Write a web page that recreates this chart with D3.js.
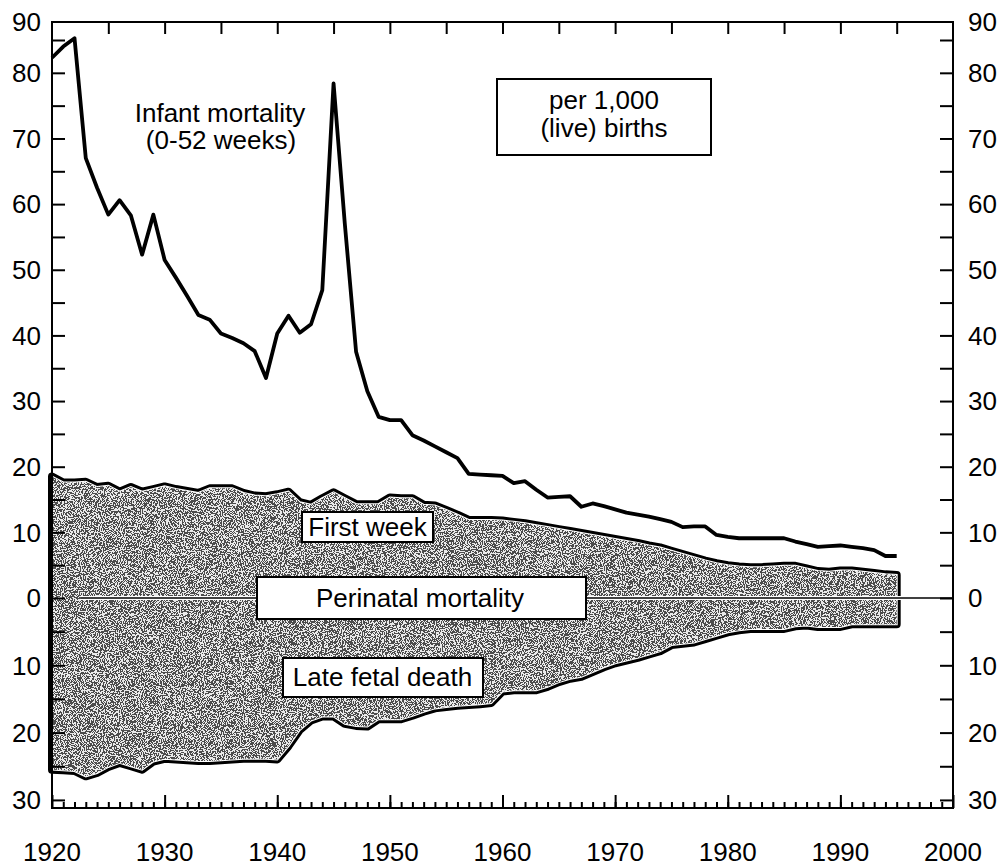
<!DOCTYPE html>
<meta charset="utf-8">
<script src="https://d3js.org/d3.v7.min.js"></script>
<style>
  body { margin: 0; background: #fff; }
  text { font-family: "Liberation Sans", Arial, Helvetica, sans-serif; fill: #000; }
</style>
<div id="chart"></div>
<script>

// data, one value per year starting 1920 (per 1,000 births)
const startYear = 1920;

const infantMortality = [82.3, 84.0, 85.5, 67.0, 62.5, 58.4, 60.6, 58.3, 52.3, 58.4,
  51.5, 48.8, 46.0, 43.1, 42.4, 40.3, 39.6, 38.8, 37.6, 33.5,
  40.3, 43.0, 40.4, 41.7, 46.9, 78.4, 57.0, 37.5, 31.5, 27.6,
  27.1, 27.1, 24.8, 24.0, 23.1, 22.2, 21.3, 18.9, 18.8, 18.7,
  18.6, 17.5, 17.8, 16.5, 15.3, 15.4, 15.5, 13.9, 14.4, 14.0,
  13.5, 13.0, 12.7, 12.4, 12.0, 11.6, 10.8, 10.9, 10.9, 9.6,
  9.3, 9.1, 9.1, 9.1, 9.1, 9.1, 8.6, 8.2, 7.8, 7.9,
  8.0, 7.8, 7.6, 7.3, 6.4, 6.4];

const firstWeek = [18.5, 17.6, 17.6, 17.7, 16.9, 17.1, 16.2, 16.9, 16.2, 16.6,
  17.0, 16.6, 16.3, 16.0, 16.7, 16.7, 16.7, 16.0, 15.6, 15.5,
  15.8, 16.2, 14.6, 14.2, 15.2, 16.1, 15.2, 14.3, 14.3, 14.3,
  15.3, 15.2, 15.2, 14.2, 14.1, 13.4, 12.7, 11.9, 11.9, 11.9,
  11.8, 11.6, 11.4, 11.1, 10.8, 10.5, 10.2, 9.9, 9.6, 9.3,
  9.0, 8.7, 8.4, 8.0, 7.7, 7.2, 6.7, 6.2, 5.7, 5.3,
  5.0, 4.8, 4.7, 4.7, 4.8, 4.9, 4.9, 4.5, 4.1, 4.0,
  4.2, 4.2, 4.0, 3.8, 3.6, 3.5];

const lateFetalDeath = [25.5, 25.6, 25.7, 26.5, 26.0, 25.1, 24.5, 25.0, 25.5, 24.3,
  23.9, 24.0, 24.1, 24.2, 24.2, 24.1, 24.0, 23.9, 23.9, 23.9,
  24.0, 22.0, 19.6, 18.2, 17.6, 17.6, 18.7, 19.0, 19.1, 18.0,
  18.0, 18.0, 17.5, 16.9, 16.4, 16.2, 16.0, 15.9, 15.8, 15.6,
  13.9, 13.7, 13.7, 13.7, 13.2, 12.5, 12.0, 11.7, 11.0, 10.3,
  9.7, 9.3, 8.9, 8.4, 7.9, 7.0, 6.8, 6.6, 6.1, 5.6,
  5.1, 4.8, 4.6, 4.6, 4.6, 4.6, 4.2, 4.1, 4.3, 4.3,
  4.3, 3.9, 3.9, 3.9, 3.9, 3.9];

const xTickLabels = [1920, 1930, 1940, 1950, 1960, 1970, 1980, 1990, 2000];
const yTickLabels = [-30, -20, -10, 0, 10, 20, 30, 40, 50, 60, 70, 80, 90];

const rows = infantMortality.map((v, i) => ({
  year: startYear + i,
  infant: v,
  week: firstWeek[i],
  fetal: lateFetalDeath[i]
}));

const W = 1004, H = 867;
const margin = { top: 22, right: 51, bottom: 59, left: 52 };
const width = W - margin.left - margin.right,
  height = H - margin.top - margin.bottom;

const svg = d3.select("#chart").append("svg")
  .attr("width", W).attr("height", H);

// speckled grey fill
const defs = svg.append("defs");
const f = defs.append("filter").attr("id", "grain")
  .attr("x", 0).attr("y", 0).attr("width", 1).attr("height", 1)
  .attr("color-interpolation-filters", "sRGB");
f.append("feTurbulence").attr("type", "fractalNoise")
  .attr("baseFrequency", 0.95).attr("numOctaves", 2).attr("seed", 5).attr("result", "n");
f.append("feColorMatrix").attr("in", "n").attr("type", "matrix")
  .attr("values", "0.33 0.33 0.33 0 0 0.33 0.33 0.33 0 0 0.33 0.33 0.33 0 0 0 0 0 0 1")
  .attr("result", "g");
const ct = f.append("feComponentTransfer").attr("in", "g").attr("result", "bw");
["feFuncR", "feFuncG", "feFuncB"].forEach(fn =>
  ct.append(fn).attr("type", "discrete").attr("tableValues", "0.3 0.92"));
f.append("feComposite").attr("in", "bw").attr("in2", "SourceAlpha").attr("operator", "in");

const g = svg.append("g").attr("transform", `translate(${margin.left},${margin.top})`);

const x = d3.scaleLinear().domain([1920, 2000]).range([0, width]);
// upper part counts up from 0, lower part (late fetal death) counts down
const y = d3.scaleLinear().domain([-31.2, 0, 85, 90]).range([height, 576, 18, 0]);

// shaded perinatal area: black outline, thin white gap, speckled fill
const area = d3.area()
  .x(d => x(d.year))
  .y0(d => y(-d.fetal))
  .y1(d => y(d.week));

g.append("path").datum(rows)
  .attr("d", area)
  .attr("fill", "none").attr("stroke", "#000").attr("stroke-width", 8)
  .attr("stroke-linejoin", "round");
g.append("path").datum(rows)
  .attr("d", area)
  .attr("fill", "#fff").attr("stroke", "#fff").attr("stroke-width", 2);
g.append("path").datum(rows)
  .attr("d", area)
  .attr("fill", "#999").attr("filter", "url(#grain)");

// zero line
g.append("line")
  .attr("x1", x(1922.5)).attr("x2", width)
  .attr("y1", y(0)).attr("y2", y(0))
  .attr("stroke", "#fff").attr("stroke-width", 4);
g.append("line")
  .attr("x1", x(1922.5)).attr("x2", width)
  .attr("y1", y(0)).attr("y2", y(0))
  .attr("stroke", "#000").attr("stroke-width", 1.6);

// infant mortality line
g.append("path").datum(rows)
  .attr("fill", "none").attr("stroke", "#000").attr("stroke-width", 3.8)
  .attr("stroke-linejoin", "round")
  .attr("d", d3.line().x(d => x(d.year)).y(d => y(d.infant)));

// frame
g.append("rect").attr("width", width).attr("height", height)
  .attr("fill", "none").attr("stroke", "#000").attr("stroke-width", 2);

// axes (ticks drawn inward)
const yTicks = d3.range(-30, 90, 5);
const fmtY = d => yTickLabels.includes(d) ? Math.abs(d) : "";

const leftAxis = g.append("g")
  .call(d3.axisRight(y).tickValues(yTicks).tickSize(13).tickFormat(""));
const rightAxis = g.append("g").attr("transform", `translate(${width},0)`)
  .call(d3.axisLeft(y).tickValues(yTicks).tickSize(13).tickFormat(""));
const bottomMinor = g.append("g").attr("transform", `translate(0,${height})`)
  .call(d3.axisTop(x).tickValues(d3.range(1921, 2000)).tickSize(6).tickFormat(""));
const bottomMajor = g.append("g").attr("transform", `translate(0,${height})`)
  .call(d3.axisTop(x).tickValues(xTickLabels).tickSize(13).tickFormat(""));
const topAxis = g.append("g")
  .call(d3.axisBottom(x).tickValues(d3.range(1925, 2000, 5)).tickSize(12).tickFormat(""));

[leftAxis, rightAxis, bottomMinor, bottomMajor, topAxis].forEach(a => {
  a.select(".domain").remove();
  a.selectAll(".tick line").attr("stroke", "#000").attr("stroke-width", 2);
});

// tick labels
g.append("g").selectAll("text").data(yTickLabels).join("text")
  .attr("x", -11).attr("y", d => y(d)).attr("dy", "0.36em")
  .attr("text-anchor", "end").attr("font-size", 26)
  .text(fmtY);
g.append("g").selectAll("text").data(yTickLabels).join("text")
  .attr("x", width + 15).attr("y", d => y(d)).attr("dy", "0.36em")
  .attr("text-anchor", "start").attr("font-size", 26)
  .text(fmtY);
g.append("g").selectAll("text").data(xTickLabels).join("text")
  .attr("x", d => x(d)).attr("y", height + 53)
  .attr("text-anchor", "middle").attr("font-size", 26)
  .text(d => d);

// annotations
const note = g.append("text").attr("text-anchor", "middle").attr("font-size", 26);
note.append("tspan").attr("x", 168).attr("y", 100).text("Infant mortality");
note.append("tspan").attr("x", 169).attr("y", 127).text("(0-52 weeks)");

function boxLabel(lines, bx, by, bw, bh, cx, baselines) {
  g.append("rect").attr("x", bx).attr("y", by).attr("width", bw).attr("height", bh)
    .attr("fill", "#fff").attr("stroke", "#000").attr("stroke-width", 2);
  const t = g.append("text").attr("text-anchor", "middle").attr("font-size", 26);
  lines.forEach((s, i) => t.append("tspan").attr("x", cx).attr("y", baselines[i]).text(s));
}
boxLabel(["per 1,000", "(live) births"], 445, 57, 214, 76, 552, [87, 115]);
boxLabel(["First week"], 250, 490, 131, 30, 315.5, [514]);
boxLabel(["Perinatal mortality"], 205, 555, 329, 42, 368, [585]);
boxLabel(["Late fetal death"], 231, 636, 200, 39, 330.5, [664]);

</script>
